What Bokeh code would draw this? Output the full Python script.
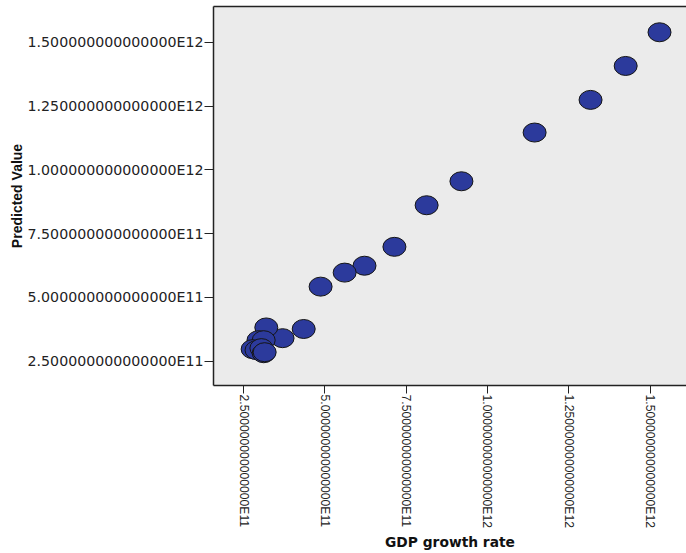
import math
from bokeh.plotting import figure
from bokeh.models import (ColumnDataSource, FixedTicker, CustomJSTickFormatter,
                          LinearAxis, Range1d)
from bokeh.embed import file_html
from bokeh.resources import INLINE

# Observed GDP (x) vs predicted value (y)
gdp = [1.529e12, 1.425e12, 1.317e12, 1.145e12, 0.920e12, 0.813e12, 0.714e12,
       0.622e12, 0.561e12, 0.487e12, 0.435e12, 0.370e12, 0.320e12, 0.296e12,
       0.312e12, 0.278e12, 0.290e12, 0.305e12, 0.312e12, 0.315e12]
predicted = [1.539e12, 1.407e12, 1.274e12, 1.146e12, 0.955e12, 0.861e12, 0.698e12,
             0.624e12, 0.597e12, 0.542e12, 0.376e12, 0.340e12, 0.382e12, 0.332e12,
             0.332e12, 0.297e12, 0.293e12, 0.301e12, 0.281e12, 0.285e12]
tick_values = [2.5e11, 5.0e11, 7.5e11, 1.0e12, 1.25e12, 1.5e12]

src = ColumnDataSource(dict(x=gdp, y=predicted))

p = figure(width=686, height=553, output_backend="svg", toolbar_location=None,
           x_range=Range1d(1.577e11, 1.612e12), y_range=Range1d(1.545e11, 1.640e12),
           min_border_left=213, min_border_top=6, min_border_right=0, min_border_bottom=0)

p.background_fill_color = "#EBEBEB"
p.border_fill_color = "white"
p.outline_line_color = None
p.grid.visible = False

p.ellipse(x="x", y="y", width=23, height=19, width_units="screen",
          height_units="screen", source=src, fill_color="#2C3A9C",
          line_color="#151515", line_width=1)

fmt = CustomJSTickFormatter(code="return tick.toExponential(15).replace('e+', 'E');")

for ax in (p.xaxis[0], p.yaxis[0]):
    ax.ticker = FixedTicker(ticks=tick_values)
    ax.formatter = fmt
    ax.minor_tick_line_color = None
    ax.axis_line_color = "#222222"
    ax.axis_line_width = 1.5
    ax.major_tick_line_color = "#222222"
    ax.major_tick_in = 0
    ax.major_label_text_color = "#222222"
    ax.axis_label_text_font_style = "bold"
    ax.axis_label_text_color = "#111111"

p.yaxis[0].major_tick_out = 9
p.yaxis[0].major_label_standoff = 1
p.yaxis[0].major_label_text_font = "DejaVu Sans"
p.yaxis[0].major_label_text_font_size = "14.2px"
p.yaxis[0].axis_label = "Predicted Value"
p.yaxis[0].axis_label_text_font = "Liberation Sans"
p.yaxis[0].axis_label_text_font_size = "14px"
p.yaxis[0].axis_label_standoff = 0

p.xaxis[0].major_tick_out = 8
p.xaxis[0].major_label_standoff = 1
p.xaxis[0].major_label_orientation = -math.pi / 2
p.xaxis[0].major_label_text_font = "Liberation Sans"
p.xaxis[0].major_label_text_font_size = "12.2px"
p.xaxis[0].axis_label = "GDP growth rate"
p.xaxis[0].axis_label_text_font = "DejaVu Sans"
p.xaxis[0].axis_label_text_font_size = "13.8px"
p.xaxis[0].axis_label_standoff = 3

top = LinearAxis(ticker=FixedTicker(ticks=[]), major_tick_line_color=None,
                 minor_tick_line_color=None, major_label_text_font_size="0px",
                 major_label_standoff=0, axis_line_color="#222222", axis_line_width=1.5)
p.add_layout(top, "above")

open("out.html", "w").write(file_html(p, INLINE))
